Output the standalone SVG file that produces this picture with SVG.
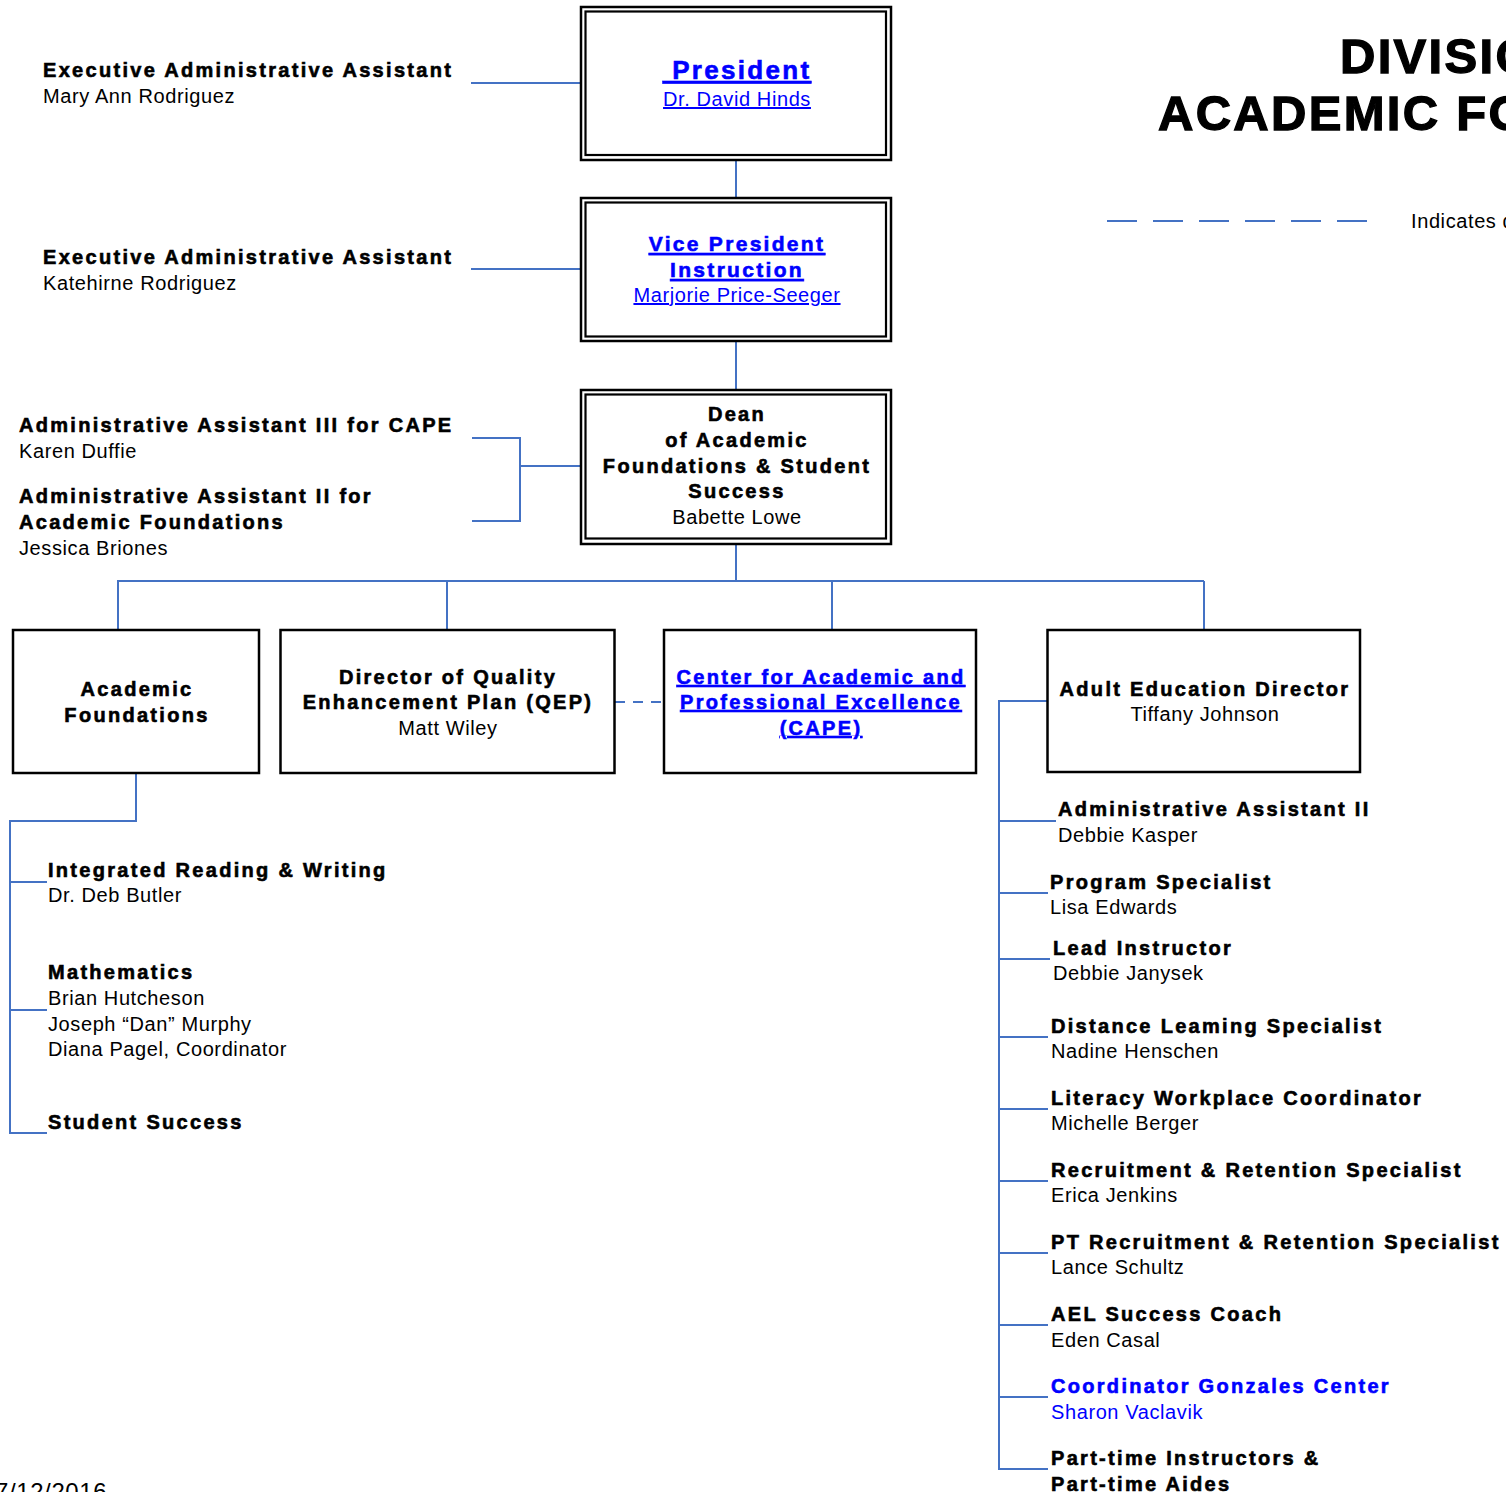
<svg xmlns="http://www.w3.org/2000/svg" width="1506" height="1492" viewBox="0 0 1506 1492">
  <style>
    text { font-family: "Liberation Sans", Arial, sans-serif; fill: #000; }
    .b { font-weight: bold; font-size: 20px; letter-spacing: 2.3px; stroke: #000; stroke-width: 0.6px; }
    .r { font-size: 20px; letter-spacing: 0.6px; }
    .c { text-anchor: middle; }
    .link { fill: #0000ff; text-decoration: underline; }
    .blue { fill: #0000ff; }
    .b.link, .b.blue { stroke: #0000ff; }
    .title { font-weight: bold; font-size: 49px; letter-spacing: 2.3px; stroke: #000; stroke-width: 1.3px; }
    .box { fill: #fff; stroke: #000; stroke-width: 2.5; }
    .box2 { fill: none; stroke: #000; stroke-width: 2.2; }
    .conn { fill: none; stroke: #4472c4; stroke-width: 2; }
    .dash { fill: none; stroke: #4472c4; stroke-width: 2; stroke-dasharray: 10 8; }
  </style>

  <!-- title and legend -->
  <g id="title">
    <text class="title" x="1340" y="73">DIVISION OF</text>
    <text class="title" x="1158" y="130">ACADEMIC FOUNDATIONS</text>
  </g>
  <g id="legend">
    <line x1="1107" y1="221" x2="1367" y2="221" stroke="#4472c4" stroke-width="2" stroke-dasharray="30 16"/>
    <text class="r" x="1411" y="228">Indicates dotted line</text>
  </g>

  <!-- connectors -->
  <g id="connectors">
    <line class="conn" x1="471" y1="83" x2="581" y2="83"/>
    <line class="conn" x1="736" y1="160" x2="736" y2="198"/>
    <line class="conn" x1="471" y1="269" x2="581" y2="269"/>
    <line class="conn" x1="736" y1="341" x2="736" y2="390"/>
    <polyline class="conn" points="472,438 520,438 520,521 472,521"/>
    <line class="conn" x1="520" y1="466" x2="581" y2="466"/>
    <line class="conn" x1="736" y1="544" x2="736" y2="581"/>
    <line class="conn" x1="117" y1="581" x2="1204" y2="581"/>
    <line class="conn" x1="118" y1="581" x2="118" y2="630"/>
    <line class="conn" x1="447" y1="581" x2="447" y2="630"/>
    <line class="conn" x1="832" y1="581" x2="832" y2="630"/>
    <line class="conn" x1="1204" y1="581" x2="1204" y2="630"/>
    <line class="dash" x1="615" y1="702" x2="664" y2="702"/>
    <!-- academic foundations branch -->
    <polyline class="conn" points="136,773 136,821 10,821 10,1133 47,1133"/>
    <line class="conn" x1="10" y1="882" x2="47" y2="882"/>
    <line class="conn" x1="10" y1="1010" x2="47" y2="1010"/>
    <!-- adult education branch -->
    <polyline class="conn" points="1047,701 999,701 999,1469 1048,1469"/>
    <line class="conn" x1="999" y1="821" x2="1056" y2="821"/>
    <line class="conn" x1="999" y1="893" x2="1048" y2="893"/>
    <line class="conn" x1="999" y1="959" x2="1050" y2="959"/>
    <line class="conn" x1="999" y1="1037" x2="1048" y2="1037"/>
    <line class="conn" x1="999" y1="1109" x2="1048" y2="1109"/>
    <line class="conn" x1="999" y1="1181" x2="1048" y2="1181"/>
    <line class="conn" x1="999" y1="1253" x2="1048" y2="1253"/>
    <line class="conn" x1="999" y1="1325" x2="1048" y2="1325"/>
    <line class="conn" x1="999" y1="1397" x2="1048" y2="1397"/>
  </g>

  <!-- staff beside the executive boxes -->
  <g id="exec-assistant-president">
    <text class="b" x="43" y="77">Executive Administrative Assistant</text>
    <text class="r" x="43" y="103">Mary Ann Rodriguez</text>
  </g>
  <g id="exec-assistant-vp">
    <text class="b" x="43" y="264">Executive Administrative Assistant</text>
    <text class="r" x="43" y="290">Katehirne Rodriguez</text>
  </g>
  <g id="admin-assistant-cape">
    <text class="b" x="19" y="432">Administrative Assistant III for CAPE</text>
    <text class="r" x="19" y="458">Karen Duffie</text>
  </g>
  <g id="admin-assistant-af">
    <text class="b" x="19" y="503">Administrative Assistant II for</text>
    <text class="b" x="19" y="529">Academic Foundations</text>
    <text class="r" x="19" y="555">Jessica Briones</text>
  </g>

  <!-- double-bordered executive boxes -->
  <g id="president">
    <rect class="box" x="581" y="7" width="310" height="153"/>
    <rect class="box2" x="585.5" y="11.5" width="300.5" height="143.5"/>
    <text class="b link c" x="737" y="79" style="font-size:26px">&#160;President</text>
    <text class="r link c" x="737" y="106">Dr. David Hinds</text>
  </g>
  <g id="vice-president">
    <rect class="box" x="581" y="198" width="310" height="143"/>
    <rect class="box2" x="585.5" y="202.5" width="300.5" height="134"/>
    <text class="b link c" x="737" y="251" style="font-size:21px">Vice President</text>
    <text class="b link c" x="737" y="277" style="font-size:21px">Instruction</text>
    <text class="r link c" x="737" y="302">Marjorie Price-Seeger</text>
  </g>
  <g id="dean">
    <rect class="box" x="581" y="390" width="310" height="154"/>
    <rect class="box2" x="585.5" y="394.5" width="300.5" height="144"/>
    <text class="b c" x="737" y="421">Dean</text>
    <text class="b c" x="737" y="447">of Academic</text>
    <text class="b c" x="737" y="473">Foundations &amp; Student</text>
    <text class="b c" x="737" y="498">Success</text>
    <text class="r c" x="737" y="524">Babette Lowe</text>
  </g>

  <!-- second tier -->
  <g id="academic-foundations">
    <rect class="box" x="13" y="630" width="246" height="143"/>
    <text class="b c" x="137" y="696">Academic</text>
    <text class="b c" x="137" y="722">Foundations</text>
  </g>
  <g id="qep-director">
    <rect class="box" x="280.5" y="630" width="334" height="143"/>
    <text class="b c" x="448" y="684">Director of Quality</text>
    <text class="b c" x="448" y="709">Enhancement Plan (QEP)</text>
    <text class="r c" x="448" y="735">Matt Wiley</text>
  </g>
  <g id="cape">
    <rect class="box" x="664" y="630" width="312" height="143"/>
    <text class="b link c" x="821" y="684">Center for Academic and</text>
    <text class="b link c" x="821" y="709">Professional Excellence</text>
    <text class="b link c" x="821" y="735">(CAPE)</text>
  </g>
  <g id="adult-education">
    <rect class="box" x="1047.5" y="630" width="312.5" height="142"/>
    <text class="b c" x="1205" y="696">Adult Education Director</text>
    <text class="r c" x="1205" y="721">Tiffany Johnson</text>
  </g>

  <!-- academic foundations units -->
  <g id="reading-writing">
    <text class="b" x="48" y="877">Integrated Reading &amp; Writing</text>
    <text class="r" x="48" y="902">Dr. Deb Butler</text>
  </g>
  <g id="mathematics">
    <text class="b" x="48" y="979">Mathematics</text>
    <text class="r" x="48" y="1005">Brian Hutcheson</text>
    <text class="r" x="48" y="1031">Joseph “Dan” Murphy</text>
    <text class="r" x="48" y="1056">Diana Pagel, Coordinator</text>
  </g>
  <g id="student-success">
    <text class="b" x="48" y="1129">Student Success</text>
  </g>

  <!-- adult education staff -->
  <g id="ae-admin-assistant">
    <text class="b" x="1058" y="816">Administrative Assistant II</text>
    <text class="r" x="1058" y="842">Debbie Kasper</text>
  </g>
  <g id="program-specialist">
    <text class="b" x="1050" y="889">Program Specialist</text>
    <text class="r" x="1050" y="914">Lisa Edwards</text>
  </g>
  <g id="lead-instructor">
    <text class="b" x="1053" y="955">Lead Instructor</text>
    <text class="r" x="1053" y="980">Debbie Janysek</text>
  </g>
  <g id="distance-learning">
    <text class="b" x="1051" y="1033">Distance Leaming Specialist</text>
    <text class="r" x="1051" y="1058">Nadine Henschen</text>
  </g>
  <g id="literacy-workplace">
    <text class="b" x="1051" y="1105">Literacy Workplace Coordinator</text>
    <text class="r" x="1051" y="1130">Michelle Berger</text>
  </g>
  <g id="recruitment-retention">
    <text class="b" x="1051" y="1177">Recruitment &amp; Retention Specialist</text>
    <text class="r" x="1051" y="1202">Erica Jenkins</text>
  </g>
  <g id="pt-recruitment-retention">
    <text class="b" x="1051" y="1249">PT Recruitment &amp; Retention Specialist</text>
    <text class="r" x="1051" y="1274">Lance Schultz</text>
  </g>
  <g id="success-coach">
    <text class="b" x="1051" y="1321">AEL Success Coach</text>
    <text class="r" x="1051" y="1347">Eden Casal</text>
  </g>
  <g id="gonzales-center">
    <text class="b blue" x="1051" y="1393">Coordinator Gonzales Center</text>
    <text class="r blue" x="1051" y="1419">Sharon Vaclavik</text>
  </g>
  <g id="part-time">
    <text class="b" x="1051" y="1465">Part-time Instructors &amp;</text>
    <text class="b" x="1051" y="1491">Part-time Aides</text>
  </g>

  <g id="date">
    <text class="r" x="-5" y="1500" style="font-size:24px">7/12/2016</text>
  </g>
</svg>
